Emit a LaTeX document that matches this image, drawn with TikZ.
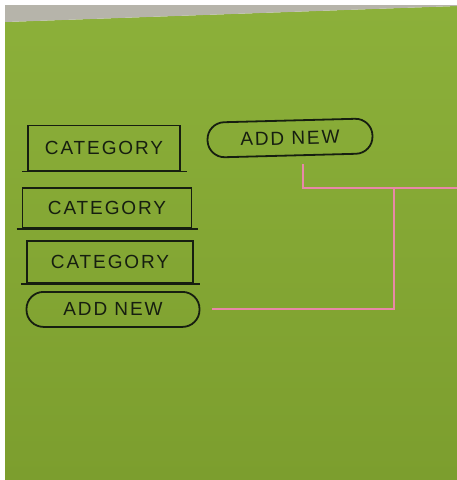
\documentclass[tikz,border=0pt]{standalone}
\usepackage{fontspec}
\newfontfamily\sketchfont[LetterSpace=10]{Liberation Sans}
\usetikzlibrary{positioning}
\definecolor{paperhi}{RGB}{140,176,58}
\definecolor{paperlo}{RGB}{124,158,46}
\definecolor{tape}{RGB}{182,180,170}
\definecolor{ink}{RGB}{22,30,16}
\definecolor{wire}{RGB}{232,136,168}

\begin{document}
\begin{tikzpicture}[x=1pt,y=-1pt,node distance=15pt and 10pt,
  pen/.style={draw=ink,line width=1.8pt},
  hand/.style={text=ink,font=\sketchfont\fontsize{19}{19}\selectfont},
  catbox/.style={pen,hand,rectangle,minimum height=42pt,inner sep=2pt},
  pill/.style={pen,hand,rectangle,rounded corners=17pt,minimum height=35pt,inner sep=2pt},
  link/.style={draw=wire,line width=2pt}]
  \useasboundingbox (0,0) rectangle (457,480);
  % paper and the strip of table above it
  \fill[white] (0,0) rectangle (457,480);
  \shade[top color=paperhi,bottom color=paperlo] (5,22) -- (457,6) -- (457,480) -- (5,480) -- cycle;
  \fill[tape] (5,5) -- (457,5) -- (457,6) -- (5,22) -- cycle;
  % list of categories
  \node[catbox,minimum width=152pt,minimum height=45pt] (cat1) at (104,148) {CATEGORY};
  \node[catbox,minimum width=169pt,minimum height=40pt,below=16pt of cat1,xshift=3pt] (cat2) {CATEGORY};
  \node[catbox,minimum width=166pt,below=11pt of cat2,xshift=3pt] (cat3) {CATEGORY};
  \node[pill,minimum width=173pt,below=7pt of cat3,xshift=3pt] (addnew) {ADD NEW};
  \node[pill,minimum width=165pt,rotate=1.5] (addtop) at (290,138) {ADD NEW};
  % lines under the boxes run on a bit
  \foreach \cat in {cat1,cat2,cat3}
    \draw[pen] ([xshift=-5pt]\cat.south west) -- ([xshift=6pt]\cat.south east);
  % links
  \coordinate (joint) at (394,188);
  \coordinate (edge) at (457,188);
  \draw[link] ([xshift=13pt,yshift=-8pt]addtop.south) |- (edge);
  \draw[link] ([xshift=12pt]addnew.east) -| (joint);
\end{tikzpicture}
\end{document}
